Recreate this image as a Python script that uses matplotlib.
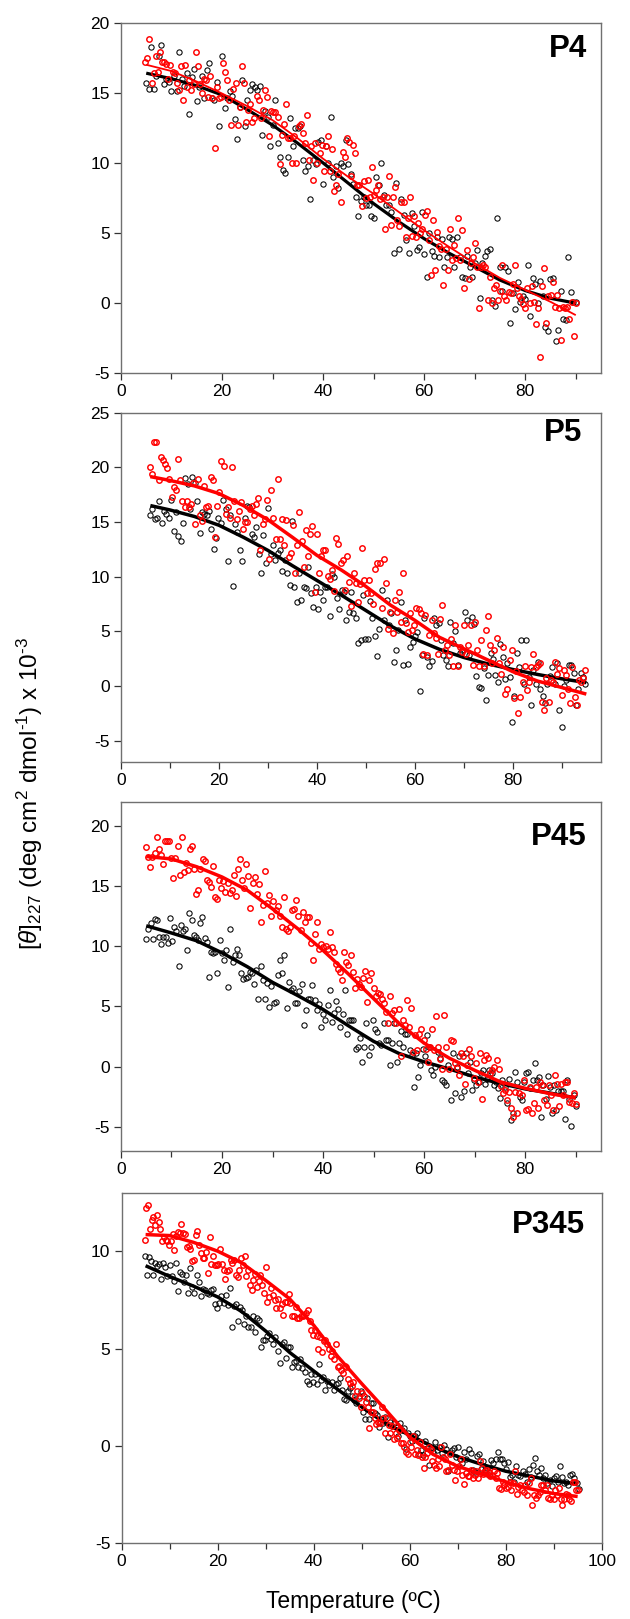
import numpy as np
import matplotlib
matplotlib.use("Agg")
import matplotlib.pyplot as plt

plt.rcParams['font.family'] = ['Liberation Sans', 'DejaVu Sans']
plt.rcParams['mathtext.fontset'] = 'custom'
plt.rcParams['mathtext.rm'] = 'Liberation Sans'
plt.rcParams['mathtext.it'] = 'Liberation Sans:italic'
plt.rcParams['mathtext.bf'] = 'Liberation Sans:bold'
plt.rcParams['axes.unicode_minus'] = False

# ---------------- data ----------------
panel_names = ["P4", "P5", "P45", "P345"]

# temperature ranges of the scatter series (start, end) in deg C
p4_black_range = (5.0, 90.0)
p4_red_range = (4.8, 90.0)
p5_black_range = (5.9, 94.8)
p5_red_range = (5.9, 94.8)
p45_black_range = (5.0, 90.0)
p45_red_range = (5.0, 90.0)
p345_black_range = (4.8, 95.2)
p345_red_range = (4.8, 95.1)

p4_black = [15.7,15.3,18.3,15.3,16.2,17.6,18.4,15.6,16.0,15.8,
            15.1,16.2,15.1,17.9,16.0,15.5,16.4,13.5,16.1,16.7,
            14.4,15.4,16.2,14.6,16.6,17.1,14.6,14.5,15.8,12.6,
            17.6,13.9,14.6,15.1,14.8,13.1,11.7,14.0,15.9,12.6,
            14.5,15.2,15.6,15.4,15.2,15.5,12.0,13.7,13.3,11.2,
            12.7,14.5,11.4,10.4,9.5,9.3,10.4,13.2,11.2,12.5,
            12.5,12.6,10.2,9.4,9.8,7.4,10.2,9.9,11.5,11.6,
            8.5,11.2,10.0,13.3,9.0,9.8,8.2,10.0,9.8,11.6,
            9.9,9.2,8.5,7.6,6.2,7.3,7.6,7.0,7.0,6.2,
            6.1,9.0,8.4,10.0,7.7,7.0,7.0,6.5,3.6,8.6,
            3.9,7.4,6.3,4.5,3.6,6.4,5.5,3.8,4.0,6.5,
            3.5,1.9,5.0,3.7,3.4,4.7,3.3,4.6,2.6,3.3,
            4.7,4.6,2.6,4.7,3.3,1.9,1.8,3.4,2.6,1.9,
            2.9,3.8,0.4,2.9,3.4,3.7,3.9,0.2,-0.2,6.1,
            2.6,0.9,2.6,2.3,-1.4,0.7,-0.4,1.5,0.1,0.5,
            0.3,2.7,-0.9,1.8,1.4,0.0,1.6,0.5,-1.7,-2.0,
            1.7,1.8,-2.7,-1.9,0.9,-1.1,-1.2,3.3,0.8,0.1,0.1]

p4_red = [17.2,17.5,18.8,15.7,16.4,17.6,16.5,17.9,17.2,17.2,
          17.05,16.0,16.98,16.5,16.4,15.7,15.2,16.9,14.5,17.0,
          15.4,15.9,15.2,15.6,17.9,16.9,15.6,15.0,16.0,15.9,
          14.7,16.2,14.6,11.1,15.4,14.6,14.7,17.1,16.5,15.9,
          14.5,12.7,15.3,15.7,12.7,14.0,16.9,15.7,12.9,13.8,
          14.2,12.9,13.2,14.8,14.5,13.2,13.8,15.2,14.7,11.9,
          13.7,13.6,13.6,13.3,9.9,12.0,12.8,14.2,11.75,11.75,
          10.0,11.9,10.0,12.6,12.8,12.1,11.4,13.4,10.2,11.2,
          8.8,11.4,10.0,10.7,11.3,9.4,11.2,11.9,9.4,11.0,
          8.0,8.4,9.2,7.2,10.8,10.4,11.75,11.5,9.1,11.3,
          10.7,8.4,8.4,6.9,8.7,7.5,8.8,7.6,9.7,7.7,
          8.1,8.4,7.4,7.6,5.3,7.6,9.1,5.6,7.6,8.3,
          5.9,5.5,7.2,7.2,4.7,6.05,7.6,4.8,6.2,4.7,
          5.7,4.98,5.3,6.3,6.6,4.5,2.0,5.9,2.4,5.1,
          4.1,3.9,1.3,3.9,2.4,5.3,3.1,4.15,3.2,6.1,
          3.1,5.2,1.1,3.8,1.7,2.85,3.3,4.3,2.6,-0.35,
          2.6,2.7,2.6,0.2,1.85,0.0,1.1,1.3,0.2,0.9,
          2.7,0.5,0.2,0.8,0.7,1.4,2.7,1.1,0.5,0.3,
          -0.05,-0.35,1.1,0.0,1.2,0.1,-1.5,-0.35,-3.8,1.2,
          2.5,-1.4,0.5,0.6,1.5,-0.25,0.6,-0.35,-2.6,-0.25,
          -0.35,-0.25,-1.15,0.1,-2.35,0.0]

p5_black = [15.6,16.2,15.3,15.4,16.9,14.9,16.0,15.7,15.4,17.0,
            14.2,15.9,13.7,13.3,14.9,19.0,18.5,16.2,19.15,18.6,
            16.9,14.0,15.9,15.7,15.6,16.0,14.4,12.5,13.5,15.4,
            14.9,17.0,16.2,11.4,15.6,9.1,14.8,14.1,12.4,11.4,
            15.4,16.5,16.35,13.9,13.6,14.5,12.1,10.3,13.8,11.2,
            16.3,12.1,12.85,11.5,12.2,12.4,10.5,11.5,10.3,9.2,
            15.1,9.05,7.7,10.3,7.9,9.05,9.0,10.9,8.5,7.2,
            9.05,7.0,8.6,7.9,9.05,9.05,6.4,10.2,10.0,8.0,
            7.0,8.75,8.6,6.0,6.8,8.6,6.7,6.2,3.9,4.2,
            8.3,4.3,4.3,7.8,6.2,4.6,2.7,5.2,8.8,6.0,
            7.9,5.55,6.7,2.2,3.3,5.1,7.7,1.9,6.0,2.0,
            3.6,4.0,4.6,4.9,-0.45,2.8,6.2,2.65,1.8,2.3,
            6.2,5.55,5.8,4.2,2.8,2.4,1.8,5.85,3.9,5.0,
            1.9,3.0,3.3,6.8,6.0,2.8,6.3,5.7,0.9,-0.1,
            -0.15,1.6,-1.3,0.99,3.0,2.5,0.99,0.4,3.8,2.6,
            0.6,2.1,0.8,-3.3,-0.9,3.0,1.7,4.2,0.2,4.2,
            0.8,-1.75,1.45,0.2,2.2,-0.3,-0.9,-1.6,0.2,0.9,
            1.7,0.2,2.1,-2.2,-3.8,0.0,0.55,1.9,1.9,1.2,
            -1.75,-0.3,1.2,0.8,0.2]

p5_red = [20.05,19.4,22.35,22.35,18.8,20.9,20.7,20.3,19.95,18.9,
          17.3,18.2,17.9,20.8,18.85,16.95,16.4,16.95,16.35,16.65,
          18.6,14.8,18.9,15.6,15.1,18.3,16.35,16.5,19.15,18.85,
          13.6,16.5,17.7,20.6,20.15,15.7,16.35,15.4,20.05,16.95,
          15.3,16.0,16.8,14.4,15.0,15.0,16.2,16.5,15.6,16.65,
          17.2,12.45,14.8,15.3,17.0,11.6,17.9,15.4,13.45,18.9,
          13.4,15.3,12.85,15.2,11.8,12.2,14.7,10.3,12.9,15.9,
          13.3,10.9,14.3,11.9,13.9,14.6,8.6,13.9,10.3,11.85,
          12.45,12.45,10.1,9.8,10.6,8.65,13.55,13.0,11.2,11.5,
          8.75,11.9,9.5,7.3,10.3,9.4,7.7,9.3,12.6,9.7,
          8.5,9.65,8.5,7.5,10.7,11.2,11.2,7.15,11.6,9.4,
          5.25,6.8,4.85,7.9,6.8,8.6,5.85,10.3,5.75,4.95,
          6.7,5.1,5.55,7.15,7.0,6.7,2.95,6.45,2.8,4.65,
          6.05,4.8,4.4,2.9,6.15,7.4,3.3,3.7,2.8,4.3,
          1.8,5.55,1.8,3.55,3.1,5.55,2.95,3.7,5.55,1.9,
          5.85,3.3,1.8,4.2,1.8,5.1,6.4,3.7,2.05,3.3,
          4.4,2.1,1.1,3.55,-0.7,-0.25,2.4,3.3,-1.15,1.4,
          -2.5,-1.0,0.4,1.8,-0.4,0.4,1.75,2.95,1.75,1.9,
          2.05,-1.45,-2.25,0.7,-1.45,0.55,0.4,2.2,1.1,1.6,
          -0.8,1.45,1.0,-0.25,-1.6,1.75,-1.0,-1.75,0.55,0.4,
          0.7,1.45]

p45_black = [10.6,11.4,11.9,10.6,12.3,12.2,10.8,10.2,10.8,10.8,
             10.25,12.35,10.45,11.6,11.3,8.35,11.8,11.3,11.4,9.65,
             12.8,12.2,10.95,10.8,10.55,11.9,12.4,10.7,10.35,7.45,
             9.5,9.4,9.5,7.75,10.55,9.4,8.85,9.65,6.6,11.4,
             8.7,9.25,9.8,9.25,7.75,7.25,7.4,7.45,7.85,7.75,
             6.9,8.0,5.65,8.35,7.2,5.65,6.95,4.95,6.7,5.3,
             5.4,7.6,8.85,7.75,9.25,4.9,7.05,6.35,6.5,5.3,
             5.3,6.3,6.85,3.45,4.7,5.65,5.6,6.75,5.5,4.7,
             5.2,3.3,4.4,3.9,5.1,6.35,3.7,4.45,5.45,4.75,
             3.3,4.4,6.35,2.7,3.85,3.9,3.85,1.5,1.65,2.35,
             0.35,1.65,3.6,1.0,1.65,3.9,3.15,2.9,1.95,1.8,
             3.6,2.2,2.2,0.15,1.95,3.6,0.4,1.95,3.0,1.65,
             2.75,2.7,1.4,1.0,-1.65,1.1,-0.85,0.15,1.5,0.85,
             2.6,1.65,-0.3,-0.7,0.0,1.25,0.7,-1.1,-1.25,-1.5,
             0.15,-2.8,1.1,-2.2,0.0,0.85,-2.5,-2.05,1.1,-0.55,
             0.4,-1.95,-1.1,-1.5,-1.25,-0.55,-0.3,-1.4,-1.0,-0.3,
             -0.55,-1.5,-1.25,-1.8,-2.6,-1.1,-1.65,-3.05,-1.0,-4.4,
             -3.85,-0.45,-1.25,-2.5,-2.75,-1.25,-0.55,-0.45,-1.8,-1.1,
             0.3,-1.1,-0.85,-4.2,-1.5,-2.7,-0.75,-1.65,-3.85,-1.5,
             -3.6,-2.05,-2.05,-2.05,-4.35,-1.1,-2.7,-4.9,-2.35,-3.25]

p45_red = [18.25,17.4,16.6,17.4,17.75,19.1,18.1,17.6,16.85,18.7,
           18.7,18.7,17.35,15.7,17.35,18.3,15.9,19.1,16.15,16.9,
           16.3,18.1,18.3,16.45,14.3,14.7,16.45,17.25,17.1,15.5,
           15.35,14.95,16.7,14.1,13.95,15.5,14.8,15.4,14.5,15.25,
           14.4,14.65,15.9,14.15,16.45,17.25,15.5,14.8,16.8,15.8,
           13.2,15.25,15.75,14.35,15.15,12.0,13.4,16.25,13.6,14.25,
           12.55,13.75,13.0,13.3,12.55,11.6,14.05,11.4,11.3,11.6,
           13.0,13.1,13.85,12.5,11.35,12.85,12.05,12.45,12.4,10.3,
           8.85,11.0,12.05,9.8,10.15,9.95,10.0,9.8,11.2,9.95,
           9.55,8.55,8.15,7.85,7.2,9.55,8.7,8.45,9.25,7.85,
           6.5,7.3,6.9,6.65,7.4,7.95,5.4,7.2,7.75,6.5,
           5.85,6.1,6.0,5.65,5.3,4.5,3.6,5.85,4.45,4.7,
           3.6,4.75,0.85,3.9,3.45,5.5,3.3,4.85,1.25,2.6,
           1.4,2.75,3.15,2.2,1.5,0.4,1.65,3.1,1.35,4.2,
           1.65,0.6,-0.2,4.3,1.65,-0.2,2.2,2.15,0.3,-0.15,
           -0.7,1.15,0.85,-1.45,0.15,1.5,0.85,-0.95,0.3,-1.25,
           1.1,-2.7,0.55,0.95,0.7,-0.55,-0.3,0.0,0.55,-0.2,
           -1.6,-2.2,-1.95,-2.75,-2.1,-3.45,-4.15,-2.1,-3.85,-2.2,
           -2.35,-1.1,-3.6,-3.55,-1.65,-3.85,-3.05,-1.65,-3.45,-1.25,
           -1.5,-2.75,-3.2,-1.5,-2.35,-3.6,-0.7,-1.4,-3.25,-1.45,
           -2.35,-1.25,-1.25,-2.9,-3.0,-2.2,-3.1]

p345_black = [9.75,8.75,9.7,9.5,8.75,9.4,9.25,9.35,8.55,9.4,
              9.2,8.7,9.3,8.7,8.45,9.4,7.95,8.95,8.85,8.4,
              8.8,7.85,9.15,8.15,7.85,8.8,8.4,7.7,8.05,8.0,
              7.85,7.8,8.0,8.05,7.3,7.1,7.35,7.7,7.35,7.75,
              7.25,8.1,6.1,7.2,7.3,6.4,7.15,7.0,6.25,6.65,
              6.1,6.1,6.65,5.85,6.55,6.45,5.1,5.45,5.45,5.65,
              5.8,5.5,5.25,5.6,4.85,4.25,5.25,5.35,4.5,5.1,
              5.1,4.05,4.3,4.35,4.05,4.45,4.0,3.8,3.35,3.2,
              3.7,3.3,3.7,3.2,4.2,3.4,3.55,2.85,3.35,3.1,
              3.3,2.85,3.2,3.25,3.5,2.85,2.4,2.35,2.8,2.95,
              2.55,2.35,2.2,2.55,2.8,1.75,1.4,2.45,1.4,2.2,
              2.2,1.7,1.6,0.95,1.4,1.15,1.5,0.45,1.25,1.0,
              1.15,0.95,0.5,1.15,0.8,0.9,-0.15,0.65,0.5,0.25,
              0.5,0.65,-0.4,-0.2,-0.45,0.25,-0.1,-1.0,-0.1,-0.3,
              0.2,-0.2,-0.05,-0.35,0.05,-0.15,-1.3,-0.35,-0.2,-0.1,
              -0.55,-0.05,-0.7,-0.9,-0.3,-0.7,-0.15,-0.35,-1.25,-1.35,
              -0.5,-0.4,-1.2,-0.8,-1.25,-1.15,-1.5,-0.75,-0.9,-0.7,
              -0.3,-0.7,-0.7,-0.9,-1.2,-0.85,-1.6,-1.5,-1.85,-1.05,
              -1.5,-1.55,-1.3,-1.45,-1.85,-1.2,-1.6,-1.0,-0.6,-1.3,
              -1.5,-1.15,-1.65,-1.5,-1.9,-1.75,-2.05,-1.65,-1.55,-1.85,
              -1.05,-1.6,-1.9,-1.85,-2.0,-1.5,-1.45,-1.65,-1.9,-2.2]

p345_red = [10.55,12.2,12.35,11.15,11.6,11.75,11.35,11.85,11.5,11.15,
            10.5,10.75,10.55,10.5,10.3,10.5,10.9,10.05,10.8,11.0,
            10.95,11.4,10.95,10.9,10.2,10.25,10.1,9.5,9.55,10.85,
            11.05,10.3,9.9,9.65,9.65,9.95,8.9,10.75,9.35,9.75,
            9.3,9.3,9.35,10.1,9.35,9.05,8.55,9.0,9.05,9.55,
            9.4,9.55,8.75,8.65,9.05,9.65,9.3,9.75,8.7,9.05,
            8.25,8.0,8.5,8.85,8.15,8.45,8.75,8.25,7.85,9.2,
            7.4,7.65,8.1,7.75,7.5,7.1,7.55,7.1,7.3,6.7,
            7.4,7.4,7.8,7.35,6.65,6.65,7.15,6.55,6.55,6.65,
            6.65,6.7,6.8,7.0,6.4,5.95,5.7,5.95,5.65,5.0,
            5.6,4.8,5.4,5.45,5.25,5.0,4.6,4.85,4.45,5.25,
            4.05,4.1,3.9,3.75,4.1,4.05,3.45,3.25,3.05,3.3,
            2.55,2.8,2.45,2.0,2.7,2.55,2.25,2.0,0.9,1.75,
            1.75,1.45,1.1,1.25,1.15,2.0,1.45,0.65,1.45,1.05,
            0.65,1.0,0.35,0.65,0.4,0.8,0.15,0.15,-0.05,-0.3,
            -0.4,0.2,-0.05,0.5,-0.4,-0.2,-0.45,0.2,-0.55,-1.15,
            -0.55,-0.35,-0.05,-0.15,-0.8,-1.0,-1.15,-0.7,-1.05,-0.05,
            -0.55,-0.65,-1.3,-1.25,-0.4,-1.0,-1.25,-1.75,-1.3,-1.05,
            -0.7,-1.5,-1.95,-1.4,-1.55,-1.55,-1.25,-1.65,-1.5,-1.3,
            -1.65,-0.8,-1.15,-1.45,-1.3,-1.25,-1.35,-1.55,-1.5,-1.3,
            -1.65,-1.4,-2.15,-2.2,-1.85,-2.0,-2.15,-2.1,-1.85,-2.25,
            -1.9,-1.3,-2.45,-2.1,-2.0,-2.25,-2.35,-2.0,-2.5,-1.9,
            -1.65,-3.05,-2.5,-2.7,-2.5,-2.35,-2.0,-2.0,-2.25,-2.0,
            -2.7,-2.75,-2.5,-2.75,-2.25,-2.5,-2.15,-2.75,-3.05,-2.75,
            -2.45,-2.5,-2.75,-2.85,-1.85,-1.85,-2.25,-2.25]

# fitted curves, read at the listed temperatures
p4_fit_t = [5,10,15,20,25,30,35,40,45,50,55,60,65,70,75,80,85,90]
p4_fit_black = [16.4,16.0,15.5,14.85,13.8,12.7,11.4,10.0,8.55,7.1,5.8,4.6,3.55,2.6,1.65,0.9,0.35,0.0]
p4_fit_red = [17.0,16.55,15.8,14.95,14.05,13.05,11.75,10.3,9.0,7.8,6.5,5.2,4.0,2.85,1.8,0.95,0.1,-0.85]

p5_fit_t = [6,10,15,20,25,30,35,40,45,50,55,60,65,70,75,80,85,90,95]
p5_fit_black = [16.5,16.1,15.5,14.7,13.6,12.4,11.0,9.65,8.3,6.9,5.5,4.3,3.35,2.6,2.0,1.5,1.05,0.65,0.3]
p5_fit_red = [19.15,18.8,18.3,17.6,16.5,15.2,13.6,11.95,10.6,9.1,7.4,6.0,4.45,3.4,2.35,1.3,0.45,-0.15,-0.75]

p45_fit_t = [5,10,15,20,25,30,35,40,45,50,55,60,65,70,75,80,85,90]
p45_fit_black = [11.7,11.1,10.45,9.45,8.3,7.0,5.9,4.75,3.4,2.1,1.1,0.4,-0.2,-0.85,-1.4,-1.85,-2.2,-2.6]
p45_fit_red = [17.45,17.25,16.6,15.75,14.65,13.1,11.45,9.65,7.7,5.65,3.6,1.95,0.7,-0.3,-1.25,-1.8,-2.25,-2.6]

p345_fit_t = [5,10,15,20,25,30,35,40,45,50,55,60,65,70,75,80,85,90,95]
p345_fit_black = [9.25,8.7,8.2,7.65,6.9,5.9,4.8,3.85,2.9,2.0,1.15,0.55,-0.05,-0.55,-0.95,-1.3,-1.55,-1.8,-1.95]
p345_fit_red = [10.85,10.8,10.45,10.0,9.4,8.5,7.55,6.2,4.6,3.2,1.85,0.45,-0.45,-1.05,-1.45,-1.85,-2.2,-2.45,-2.6]

y_ticks = [[-5, 0, 5, 10, 15, 20],
           [-5, 0, 5, 10, 15, 20, 25],
           [-5, 0, 5, 10, 15, 20],
           [-5, 0, 5, 10]]
x_ticks = [[0, 20, 40, 60, 80],
           [0, 20, 40, 60, 80],
           [0, 20, 40, 60, 80],
           [0, 20, 40, 60, 80, 100]]

# ---------------- layout / style ----------------
ylims = [(-5, 20), (-7, 25), (-7, 22), (-5, 13)]
xlims = [(0, 95), (0, 98), (0, 95), (0, 100)]
ax_rects = [[0.192, 0.7694, 0.762, 0.2166],
            [0.192, 0.5291, 0.762, 0.2160],
            [0.192, 0.2891, 0.762, 0.2157],
            [0.193, 0.0468, 0.762, 0.2165]]
label_pos = [(0.971, 0.902), (0.960, 0.919), (0.971, 0.876), (0.965, 0.886)]
black_lw = [2.3, 2.5, 2.5, 2.5]
red_lw = [1.3, 2.5, 2.5, 2.5]

series = [
    (p4_black, p4_black_range, p4_red, p4_red_range, p4_fit_t, p4_fit_black, p4_fit_red),
    (p5_black, p5_black_range, p5_red, p5_red_range, p5_fit_t, p5_fit_black, p5_fit_red),
    (p45_black, p45_black_range, p45_red, p45_red_range, p45_fit_t, p45_fit_black, p45_fit_red),
    (p345_black, p345_black_range, p345_red, p345_red_range, p345_fit_t, p345_fit_black, p345_fit_red),
]

fig = plt.figure(figsize=(6.3, 16.19), dpi=100)
spine_col = '#707070'

for i, (bk, bkr, rd, rdr, ft, fb, fr) in enumerate(series):
    ax = fig.add_axes(ax_rects[i])
    tb = np.linspace(bkr[0], bkr[1], len(bk))
    tr = np.linspace(rdr[0], rdr[1], len(rd))
    ax.plot(tb, bk, linestyle='none', marker='o', ms=3.8, mfc='none',
            mec='black', mew=0.75, zorder=2)
    ax.plot(ft, fb, color='black', lw=black_lw[i], zorder=3,
            solid_capstyle='butt')
    ax.plot(tr, rd, linestyle='none', marker='o', ms=3.9, mfc='none',
            mec='#ff0000', mew=1.05, zorder=4)
    ax.plot(ft, fr, color='#ff0000', lw=red_lw[i], zorder=5,
            solid_capstyle='butt')

    ax.set_xlim(*xlims[i])
    ax.set_ylim(*ylims[i])
    ax.set_yticks(y_ticks[i])
    ax.set_xticks(x_ticks[i])
    ax.set_xticks([t + 10 for t in x_ticks[i] if t + 10 < xlims[i][1]], minor=True)
    ax.tick_params(axis='both', which='major', direction='out', length=5,
                   width=0.9, labelsize=12.5, color='#333333', pad=3)
    ax.tick_params(axis='x', which='minor', direction='out', length=4,
                   width=0.9, color='#333333')
    for s in ax.spines.values():
        s.set_color(spine_col)
        s.set_linewidth(1.0)
    ax.text(label_pos[i][0], label_pos[i][1], panel_names[i], transform=ax.transAxes,
            ha='right', va='baseline', fontsize=22.5, fontweight='bold')

fig.text(0.048, 0.51,
         r'[$\theta$]$_{227}$ (deg cm$^{2}$ dmol$^{\text{-1}}$) x 10$^{\text{-3}}$',
         rotation=90, ha='center', va='center', fontsize=17.5)
fig.text(0.5615, 0.0068, 'Temperature (ºC)', ha='center', va='baseline',
         fontsize=16.5)

fig.savefig('out.png', dpi=100)
